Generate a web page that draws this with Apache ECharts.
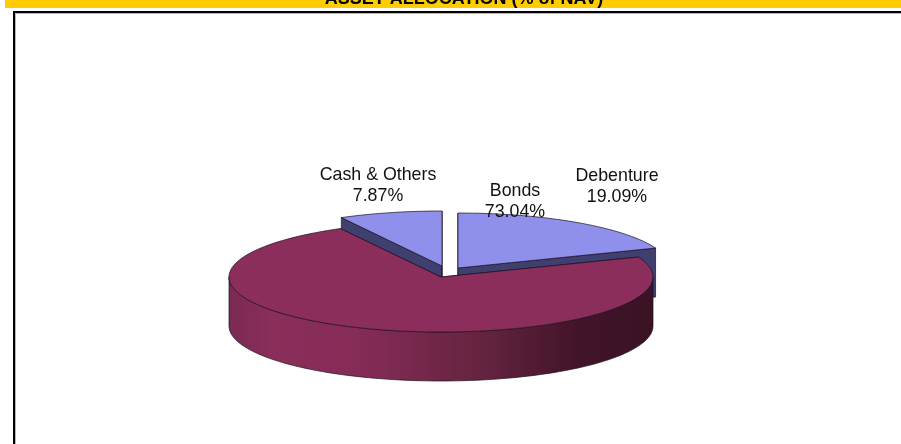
<!DOCTYPE html>
<html>

<head>
    <meta charset="UTF-8">
    <title>Asset Allocation</title>
    <script src="https://cdn.jsdelivr.net/npm/echarts@6/dist/echarts.min.js"></script>
    <style>
        html, body { margin: 0; padding: 0; background: #fff; }
        #main { width: 901px; height: 444px; }
    </style>
</head>

<body>
    <div id="main"></div>
    <script>
        var titleText = 'ASSET ALLOCATION (% of NAV)';
        var categories = ['Debenture', 'Bonds', 'Cash & Others'];
        var seriesValues = [19.09, 73.04, 7.87];
        var drawOrder = [0, 2, 1]; // exploded slices go first, the big one covers them

        // pie geometry
        var cx = 441, cy = 277, rx = 212, ry = 55, depth = 49;
        var sliceOffset = [[17, -9], [0, 0], [1, -11]];
        var labelPos = [[617, 187], [515, 202], [378, 186]];
        var topColor = ['#8f8fec', '#8b2e5b', '#8f8fec'];
        var wallColor = ['#3f3f70', '#8b2e5b', '#3f3f70'];
        var lineColor = '#1c1020';

        var chart = echarts.init(document.getElementById('main'), null, { renderer: 'canvas' });

        var total = seriesValues.reduce(function (a, b) { return a + b; }, 0);

        function rimPoint(deg, ox, oy) {
            var a = deg * Math.PI / 180;
            return [cx + ox + rx * Math.sin(a), cy + oy - ry * Math.cos(a)];
        }

        function arcPoints(from, to, ox, oy, dy) {
            var pts = [];
            var n = Math.max(2, Math.ceil(Math.abs(to - from) / 2));
            for (var i = 0; i <= n; i++) {
                var p = rimPoint(from + (to - from) * i / n, ox, oy);
                pts.push([p[0], p[1] + (dy || 0)]);
            }
            return pts;
        }

        function renderSlice(params, api) {
            var idx = api.value(0);
            var start = 0;
            for (var i = 0; i < idx; i++) start += seriesValues[i] / total * 360;
            var end = start + api.value(1) / total * 360;
            var ox = sliceOffset[idx][0], oy = sliceOffset[idx][1];
            var apex = [cx + ox, cy + oy];
            var children = [];
            var stroke = { stroke: lineColor, lineWidth: 0.7, lineJoin: 'round' };

            // flat cut walls
            [start, end].forEach(function (deg) {
                var p = rimPoint(deg, ox, oy);
                children.push({
                    type: 'polygon',
                    shape: { points: [apex, p, [p[0], p[1] + depth], [apex[0], apex[1] + depth]] },
                    style: Object.assign({ fill: wallColor[idx] }, stroke)
                });
            });

            // outer wall, only the part of the rim facing the viewer
            var wFrom = Math.max(start, 90), wTo = Math.min(end, 270);
            if (wTo > wFrom) {
                var upper = arcPoints(wFrom, wTo, ox, oy, 0);
                var lower = arcPoints(wTo, wFrom, ox, oy, depth);
                children.push({
                    type: 'polygon',
                    shape: { points: upper.concat(lower) },
                    style: Object.assign({
                        fill: new echarts.graphic.LinearGradient(cx - rx, 0, cx + rx, 0, [
                            { offset: 0, color: '#7a2a52' },
                            { offset: 0.1, color: '#8a2e5a' },
                            { offset: 0.3, color: '#862c57' },
                            { offset: 0.6, color: '#64243f' },
                            { offset: 0.82, color: '#431429' },
                            { offset: 1, color: '#3a1325' }
                        ], true)
                    }, stroke)
                });
            }

            // top face
            children.push({
                type: 'polygon',
                shape: { points: [apex].concat(arcPoints(start, end, ox, oy, 0)) },
                style: Object.assign({ fill: topColor[idx] }, stroke)
            });

            // label
            children.push({
                type: 'text',
                z2: 10,
                style: {
                    x: labelPos[idx][0],
                    y: labelPos[idx][1],
                    text: categories[idx] + '\n' + api.value(1).toFixed(2) + '%',
                    fill: '#111',
                    font: '17.8px "Liberation Sans", Arial, sans-serif',
                    lineHeight: 21,
                    align: 'center',
                    verticalAlign: 'middle'
                }
            });
            return { type: 'group', children: children };
        }

        var option = {
            animation: false,
            backgroundColor: '#fff',
            graphic: [
                { type: 'rect', shape: { x: 5, y: 0, width: 896, height: 8 }, style: { fill: '#ffcc00' }, z: 1 },
                {
                    type: 'text', z: 2,
                    style: {
                        x: 464, y: -1, text: titleText, fill: '#000',
                        font: 'bold 18px "Liberation Sans", Arial, sans-serif',
                        align: 'center', verticalAlign: 'middle'
                    }
                },
                // chart frame: open on the right and at the bottom
                { type: 'polyline', z: 1, shape: { points: [[15.5, 444], [15.5, 13.5], [901, 13.5]] }, style: { stroke: '#b5b5b5', fill: null, lineWidth: 1 } },
                { type: 'polyline', z: 1, shape: { points: [[14, 444], [14, 12], [901, 12]] }, style: { stroke: '#000', fill: null, lineWidth: 2 } }
            ],
            series: [{
                type: 'custom',
                coordinateSystem: 'none',
                renderItem: renderSlice,
                encode: { value: 1 },
                data: drawOrder.map(function (i) { return [i, seriesValues[i]]; })
            }]
        };
        chart.setOption(option);
    </script>
</body>

</html>
